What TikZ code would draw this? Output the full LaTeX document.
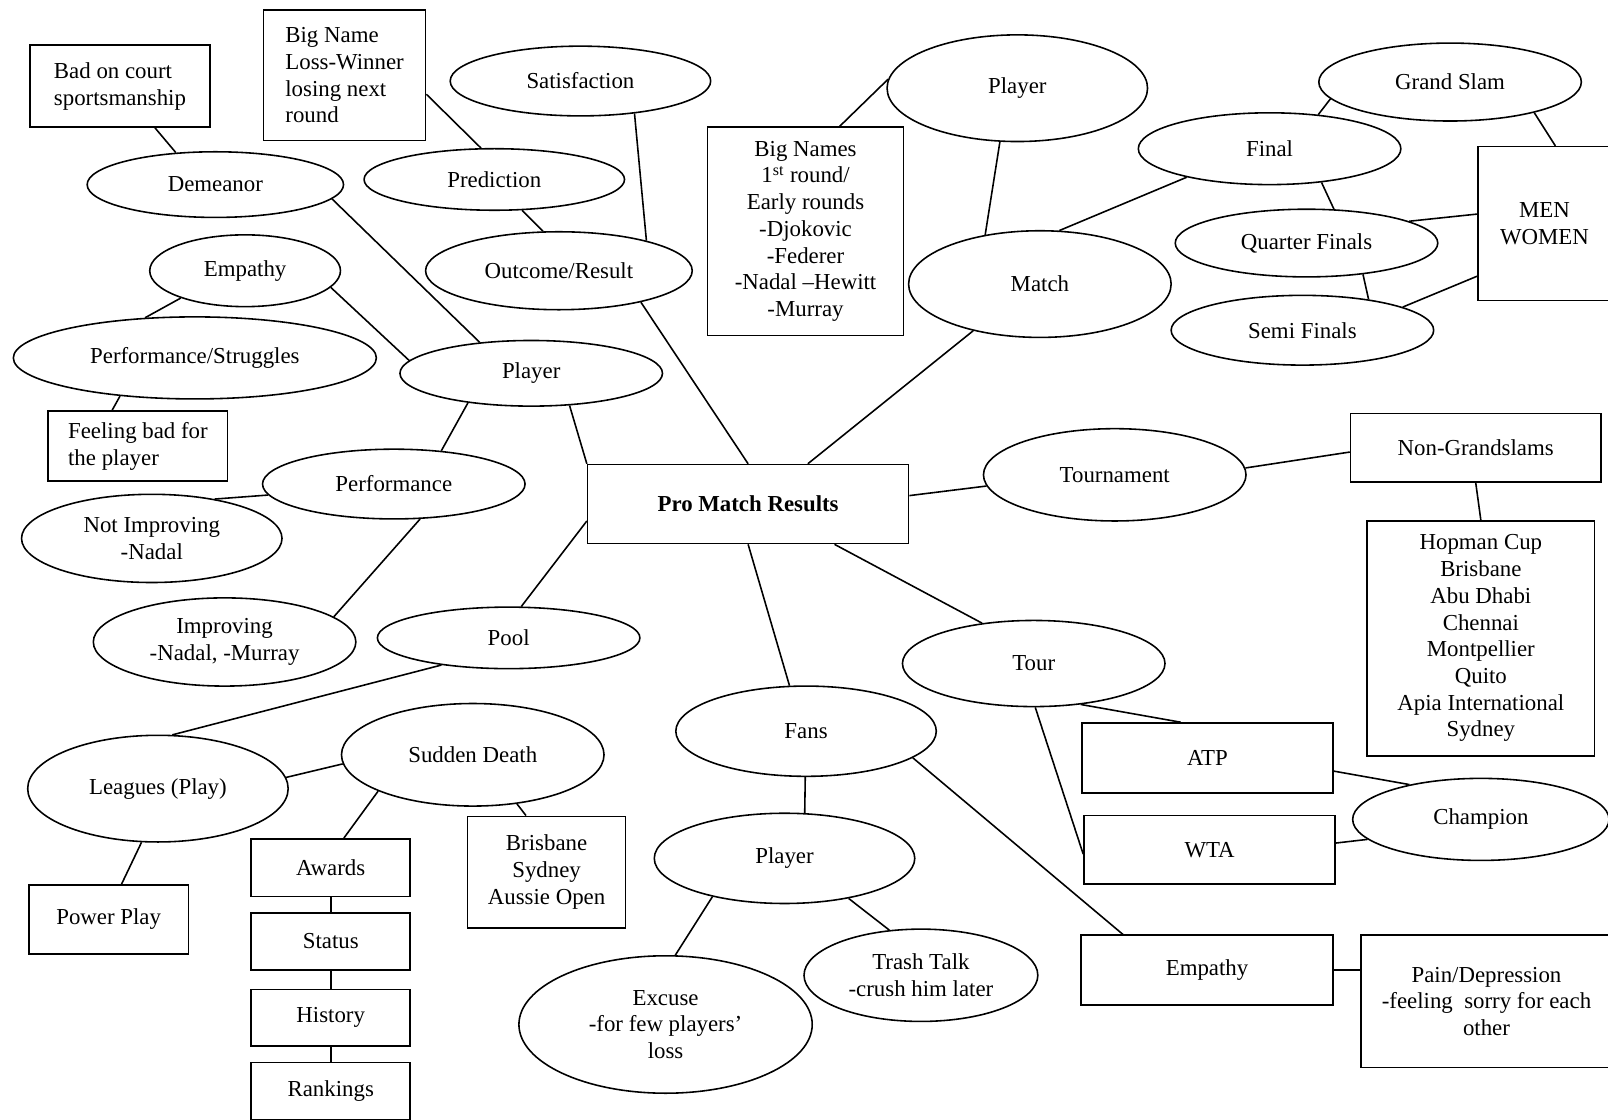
\documentclass[tikz,border=0pt]{standalone}
\usepackage{fontspec}
\setmainfont{Liberation Serif}
\usetikzlibrary{shapes.geometric}

\begin{document}
\begin{tikzpicture}[x=0.5835pt, y=-0.5835pt,
    every node/.style={font=\fontsize{13}{15.2}\selectfont, align=center, line width=0.9pt},
    bubble/.style 2 args={draw, ellipse, inner sep=0pt, minimum width=#1*0.5835pt, minimum height=#2*0.5835pt},
    panel/.style 2 args={draw, rectangle, inner sep=3pt, minimum width=#1*0.5835pt, minimum height=#2*0.5835pt},
    link/.style={black, line width=0.9pt}]
    \clip (0,0) rectangle (1568,1092);
    \fill[white] (0,0) rectangle (1568,1092);

    \node[panel={313}{77}] (pro) at (729.5,491.5) {\textbf{Pro Match Results}};

    % left side
    \node[panel={176}{80}, align=left] (badcourt) at (117,84) {Bad on court\\sportsmanship};
    \node[panel={158}{127}, align=left] (bigname) at (336,73.5) {Big Name\\Loss-Winner\\losing next\\round};
    \node[bubble={254}{68}] (sat) at (566,79) {Satisfaction};
    \node[bubble={254}{60}] (pred) at (482,175) {Prediction};
    \node[bubble={250}{64}] (dem) at (210,180) {Demeanor};
    \node[bubble={186}{70}] (emp) at (239,264) {Empathy};
    \node[bubble={260}{76}] (out) at (545,264) {Outcome/Result};
    \node[bubble={354}{80}] (pstrug) at (190,349) {Performance/Struggles};
    \node[panel={175}{68}, align=left] (feelbad) at (134.5,435) {Feeling bad for\\the player};
    \node[bubble={256}{64}] (plyl) at (518,364) {Player};
    \node[bubble={256}{68}] (perf) at (384,472) {Performance};
    \node[bubble={254}{86}] (notimp) at (148,525) {Not Improving\\-Nadal};
    \node[bubble={256}{86}] (imp) at (219,626) {Improving\\-Nadal, -Murray};
    \node[bubble={256}{60}] (pool) at (496,622) {Pool};
    \node[bubble={254}{104}] (leag) at (154,769) {Leagues (Play)};
    \node[bubble={256}{100}] (sudd) at (461,736) {Sudden Death};
    \node[panel={156}{67}] (power) at (106,896.5) {Power Play};
    \node[panel={155}{56}] (awards) at (322.5,846) {Awards};
    \node[panel={155}{56}] (status) at (322.5,918) {Status};
    \node[panel={155}{55}] (history) at (322.5,992.5) {History};
    \node[panel={155}{56}] (rankings) at (322.5,1064) {Rankings};
    \node[panel={154}{109}] (bris) at (533,850.5) {Brisbane\\Sydney\\Aussie Open};

    % bottom
    \node[bubble={254}{88}] (fans) at (786,713) {Fans};
    \node[bubble={254}{88}] (plyb) at (765,837) {Player};
    \node[bubble={286}{134}] (excuse) at (649,999) {Excuse\\-for few players’\\loss};
    \node[bubble={228}{90}] (trash) at (898,951) {Trash Talk\\-crush him later};

    % top right
    \node[panel={191}{203}] (bignames) at (785.5,225.5) {Big Names\\1\textsuperscript{st} round/\\Early rounds\\-Djokovic\\-Federer\\-Nadal –Hewitt\\-Murray};
    \node[bubble={254}{104}] (plyt) at (992,86) {Player};
    \node[bubble={256}{104}] (match) at (1014,277) {Match};
    \node[bubble={256}{70}] (final) at (1238,145) {Final};
    \node[bubble={256}{76}] (gslam) at (1414,80) {Grand Slam};
    \node[bubble={256}{66}] (qf) at (1274,237) {Quarter Finals};
    \node[bubble={256}{68}] (sf) at (1270,322) {Semi Finals};
    \node[panel={130}{150}] (menwomen) at (1506,218) {MEN\\WOMEN};

    % right side
    \node[bubble={256}{90}] (tourn) at (1087,463) {Tournament};
    \node[panel={244}{67}] (nongs) at (1439,436.5) {Non-Grandslams};
    \node[panel={222}{229}] (hopman) at (1444,622.5) {Hopman Cup\\Brisbane\\Abu Dhabi\\Chennai\\Montpellier\\Quito\\Apia International\\Sydney};
    \node[bubble={256}{84}] (tour) at (1008,647) {Tour};
    \node[panel={245}{68}] (atp) at (1177.5,739) {ATP};
    \node[panel={245}{67}] (wta) at (1179.5,828.5) {WTA};
    \node[bubble={250}{80}] (champ) at (1444,799) {Champion};
    \node[panel={246}{68}] (empbox) at (1177,946) {Empathy};
    \node[panel={245}{129}] (pain) at (1449.5,976.5) {Pain/Depression\\-feeling\ \ sorry for each\\other};

    \draw[link] (badcourt.-50) -- (dem.141);
    \draw[link] (bigname.-13) -- (pred.113);
    \draw[link] (sat.-31) -- (out.19);
    \draw[link] (pred.-48) -- (out.112);
    \draw[link] (dem.-7) -- (plyl.149);
    \draw[link] (emp.203) -- (pstrug.141);
    \draw[link] (emp.-11) -- (plyl.174);
    \draw[link] (pstrug.207) -- (feelbad.126);
    \draw[link] (plyl.205) -- (perf.35);
    \draw[link] (plyl.-40) -- (pro.north west);
    \draw[link] (perf.185) -- (notimp.32);
    \draw[link] (perf.-53) -- (imp.13);
    \draw[link] (out.-21) -- (pro.north);
    \draw[link] (pro.186) -- (pool.68);
    \draw[link] (pool.202) -- (leag.75);
    \draw[link] (leag.5) -- (sudd.184);
    \draw[link] (leag.253) -- (power.70);
    \draw[link] (sudd.201) -- (awards.66);
    \draw[link] (sudd.-48) -- (bris.110);
    \draw[link] (awards.south) -- (status.north);
    \draw[link] (status.south) -- (history.north);
    \draw[link] (history.south) -- (rankings.north);

    \draw[link] (pro.south) -- (fans.110);
    \draw[link] (fans.-91) -- (plyb.66);
    \draw[link] (plyb.208) -- (excuse.82);
    \draw[link] (plyb.-32) -- (trash.125);
    \draw[link] (fans.-14) -- (empbox.157);
    \draw[link] (empbox.east) -- (empbox.east -| pain.west);

    \draw[link] (pro.34) -- (match.215);
    \draw[link] (match.138) -- (plyt.252);
    \draw[link] (plyt.176) -- (bignames.72);
    \draw[link] (match.70) -- (final.199);
    \draw[link] (final.35) -- (gslam.188);
    \draw[link] (gslam.-20) -- (menwomen.82);
    \draw[link] (final.-33) -- (qf.51);
    \draw[link] (qf.12) -- (menwomen.172);
    \draw[link] (qf.-29) -- (sf.25);
    \draw[link] (sf.13) -- (menwomen.218);

    \draw[link] (pro.3.5) -- (tourn.185);
    \draw[link] (tourn.3.6) -- (nongs.182);
    \draw[link] (nongs.south) -- (hopman.north);
    \draw[link] (pro.-25) -- (tour.142);
    \draw[link] (tour.-41) -- (atp.127);
    \draw[link] (tour.-88) -- (wta.182);
    \draw[link] (atp.-6) -- (champ.154);
    \draw[link] (wta.3) -- (champ.190);
\end{tikzpicture}
\end{document}
